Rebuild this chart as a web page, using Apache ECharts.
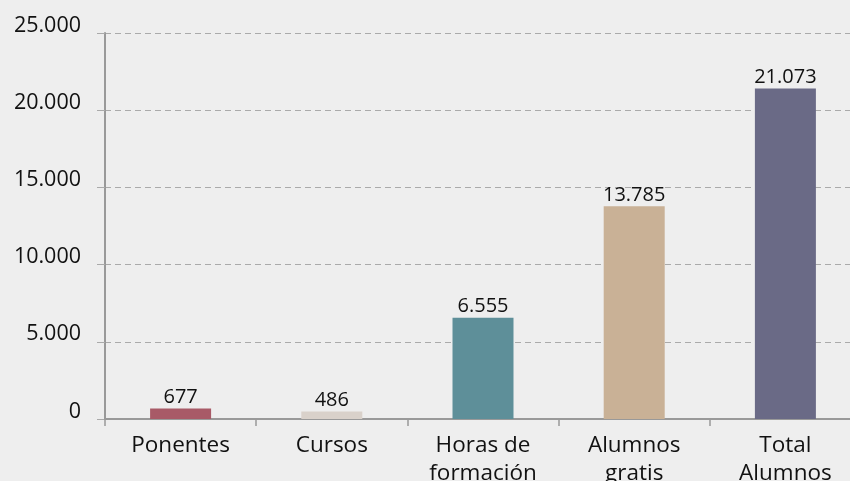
<!DOCTYPE html>
<html>
<head>
<meta charset="utf-8">
<script src="https://cdn.jsdelivr.net/npm/echarts@6/dist/echarts.min.js"></script>
<style>
  html, body { margin: 0; padding: 0; background: #eeeeee; overflow: hidden; width: 850px; height: 481px; }
  #chart { width: 862px; height: 481px; }
</style>
</head>
<body>
<div id="chart"></div>
<script>
var categories = ['Ponentes', 'Cursos', 'Horas de\nformación', 'Alumnos\ngratis', 'Total\nAlumnos'];
// bar heights as drawn in the picture (the last bar stands a bit above its printed figure)
var barValues = [677, 486, 6555, 13785, 21400];
// figures printed above the bars
var printedValues = [677, 486, 6555, 13785, 21073];
var barColors = ['#a85a67', '#d9d1ca', '#5e8f99', '#c9b196', '#6a6a86'];
var yMax = 25000;
var yStep = 5000;

function fmt(v) {
  return String(v).replace(/\B(?=(\d{3})+(?!\d))/g, '.');
}

var chart = echarts.init(document.getElementById('chart'), null, { renderer: 'canvas' });

var option = {
  backgroundColor: '#eeeeee',
  animation: false,
  textStyle: { fontFamily: 'Open Sans' },
  grid: { left: 105, top: 33, width: 756, height: 386, containLabel: false, outerBoundsMode: 'none' },
  xAxis: {
    type: 'category',
    data: categories,
    axisLine: { lineStyle: { color: '#999999', width: 2 } },
    axisTick: { show: true, length: 7, lineStyle: { color: '#999999', width: 1.5 } },
    axisLabel: {
      color: '#111111',
      fontSize: 22.5,
      lineHeight: 28,
      margin: 13,
      interval: 0
    }
  },
  yAxis: {
    type: 'value',
    min: 0,
    max: yMax,
    interval: yStep,
    axisLine: { show: true, lineStyle: { color: '#999999', width: 2 } },
    axisTick: { show: true, length: 8, lineStyle: { color: '#aaaaaa', width: 1 } },
    splitLine: { lineStyle: { color: '#aaaaaa', type: [6, 4], width: 1 } },
    axisLabel: {
      color: '#111111',
      fontSize: 21.5,
      margin: 24,
      verticalAlign: 'bottom',
      lineHeight: 15,
      formatter: function (v) { return fmt(v); }
    }
  },
  series: [{
    type: 'bar',
    barWidth: 61,
    data: barValues.map(function (v, i) {
      return { value: v, itemStyle: { color: barColors[i] } };
    }),
    label: {
      show: true,
      position: 'top',
      distance: 1,
      color: '#111111',
      fontSize: 20,
      formatter: function (p) { return fmt(printedValues[p.dataIndex]); }
    }
  }]
};

chart.setOption(option);
</script>
</body>
</html>
